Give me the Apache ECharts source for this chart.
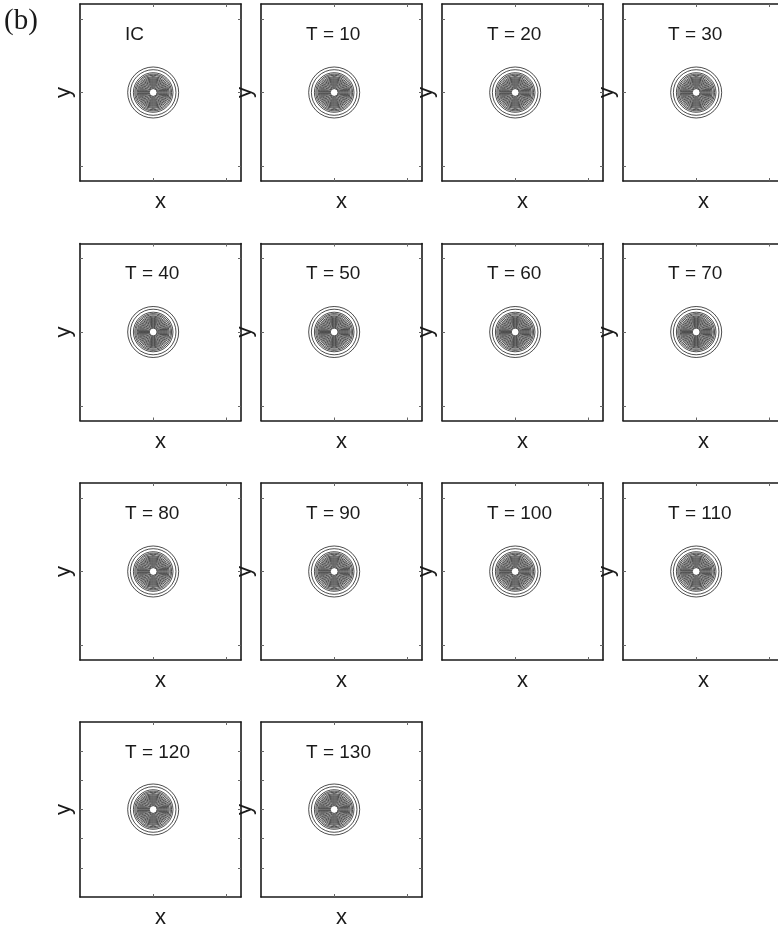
<!DOCTYPE html>
<html>
<head>
<meta charset="utf-8">
<script src="https://cdn.jsdelivr.net/npm/echarts@6/dist/echarts.min.js"></script>
<style>
  html, body { margin: 0; padding: 0; background: #fff; overflow: hidden; }
  #chart { width: 790px; height: 930px; }
</style>
</head>
<body>
<div id="chart"></div>
<script>
// Snapshot labels, one panel each
const panelLabels = ['IC', 'T = 10', 'T = 20', 'T = 30', 'T = 40', 'T = 50', 'T = 60',
  'T = 70', 'T = 80', 'T = 90', 'T = 100', 'T = 110', 'T = 120', 'T = 130'];

// Contour rings of the localized state (centre and radii in x/y units)
const ringCenter = [0, 0];
const ringRadii = [6.97, 6.23, 5.41, 5.03, 4.7, 4.37, 4.07, 3.77, 3.5, 3.22,
  2.95, 2.68, 2.4, 2.13, 1.86, 1.58, 1.31, 1.07];

// Axis extents and tick positions
const xExtent = [-20, 24];
const yExtent = [-24, 24];
const xTickValues = [0, 20];
const yTickValuesCoarse = [-20, 0, 20];
const yTickValuesFine = [-16, -8, 0, 8, 16];

const colLeft = [80, 261, 442, 623];
const rowTop = [4, 243.5, 483, 722];
const panelW = 161, panelH = 177;

const lineColor = '#1a1a1a';
const tickStyle = { show: true, inside: true, length: 3, lineStyle: { color: '#666', width: 1 } };
const sans = 'Liberation Sans, Arial, Helvetica, sans-serif';

const grids = [], xAxes = [], yAxes = [], series = [], graphics = [];

panelLabels.forEach((label, i) => {
  const row = Math.floor(i / 4), col = i % 4;
  const left = colLeft[col], top = rowTop[row];
  const yTicks = row === 3 ? yTickValuesFine : yTickValuesCoarse;
  grids.push({ left: left, top: top, width: panelW, height: panelH, containLabel: false });

  const axisLine = { show: true, onZero: false, lineStyle: { color: lineColor, width: 1.6 } };
  const xBase = { type: 'value', gridIndex: i, min: xExtent[0], max: xExtent[1],
    axisLine: axisLine, axisLabel: { show: false }, splitLine: { show: false },
    axisTick: Object.assign({ customValues: xTickValues }, tickStyle) };
  const yBase = { type: 'value', gridIndex: i, min: yExtent[0], max: yExtent[1],
    axisLine: axisLine, axisLabel: { show: false }, splitLine: { show: false },
    axisTick: Object.assign({ customValues: yTicks }, tickStyle) };

  xAxes.push(Object.assign({}, xBase, {
    position: 'bottom', name: 'x', nameLocation: 'middle', nameGap: 10,
    nameTextStyle: { fontFamily: sans, fontSize: 22, color: '#1a1a1a' }
  }));
  xAxes.push(Object.assign({}, xBase, { position: 'top' }));
  yAxes.push(Object.assign({}, yBase, {
    position: 'left', name: 'y', nameLocation: 'middle', nameGap: 5, nameRotate: 90,
    nameTextStyle: { fontFamily: sans, fontSize: 22, color: '#1a1a1a' }
  }));
  yAxes.push(Object.assign({}, yBase, { position: 'right' }));

  series.push({
    type: 'custom',
    xAxisIndex: 2 * i,
    yAxisIndex: 2 * i,
    silent: true,
    clip: true,
    data: ringRadii.map(r => [ringCenter[0], ringCenter[1], r]),
    renderItem: function (params, api) {
      const c = api.coord([api.value(0), api.value(1)]);
      const r = api.size([api.value(2), 0])[0];
      return {
        type: 'circle',
        shape: { cx: c[0], cy: c[1], r: r },
        style: { fill: 'none', stroke: '#000', lineWidth: 0.7 }
      };
    }
  });

  graphics.push({
    type: 'text', left: left + 45, top: top + 21,
    style: { text: label, fontFamily: sans, fontSize: 19, fill: '#1a1a1a' }
  });
});

graphics.push({
  type: 'text', left: 4, top: 7,
  style: { text: '(b)', fontFamily: 'Liberation Serif, Times New Roman, serif', fontSize: 29, fill: '#1a1a1a' }
});

const chart = echarts.init(document.getElementById('chart'), null, { renderer: 'canvas' });
chart.setOption({
  animation: false,
  backgroundColor: '#fff',
  grid: grids,
  xAxis: xAxes,
  yAxis: yAxes,
  series: series,
  graphic: graphics
});
</script>
</body>
</html>
